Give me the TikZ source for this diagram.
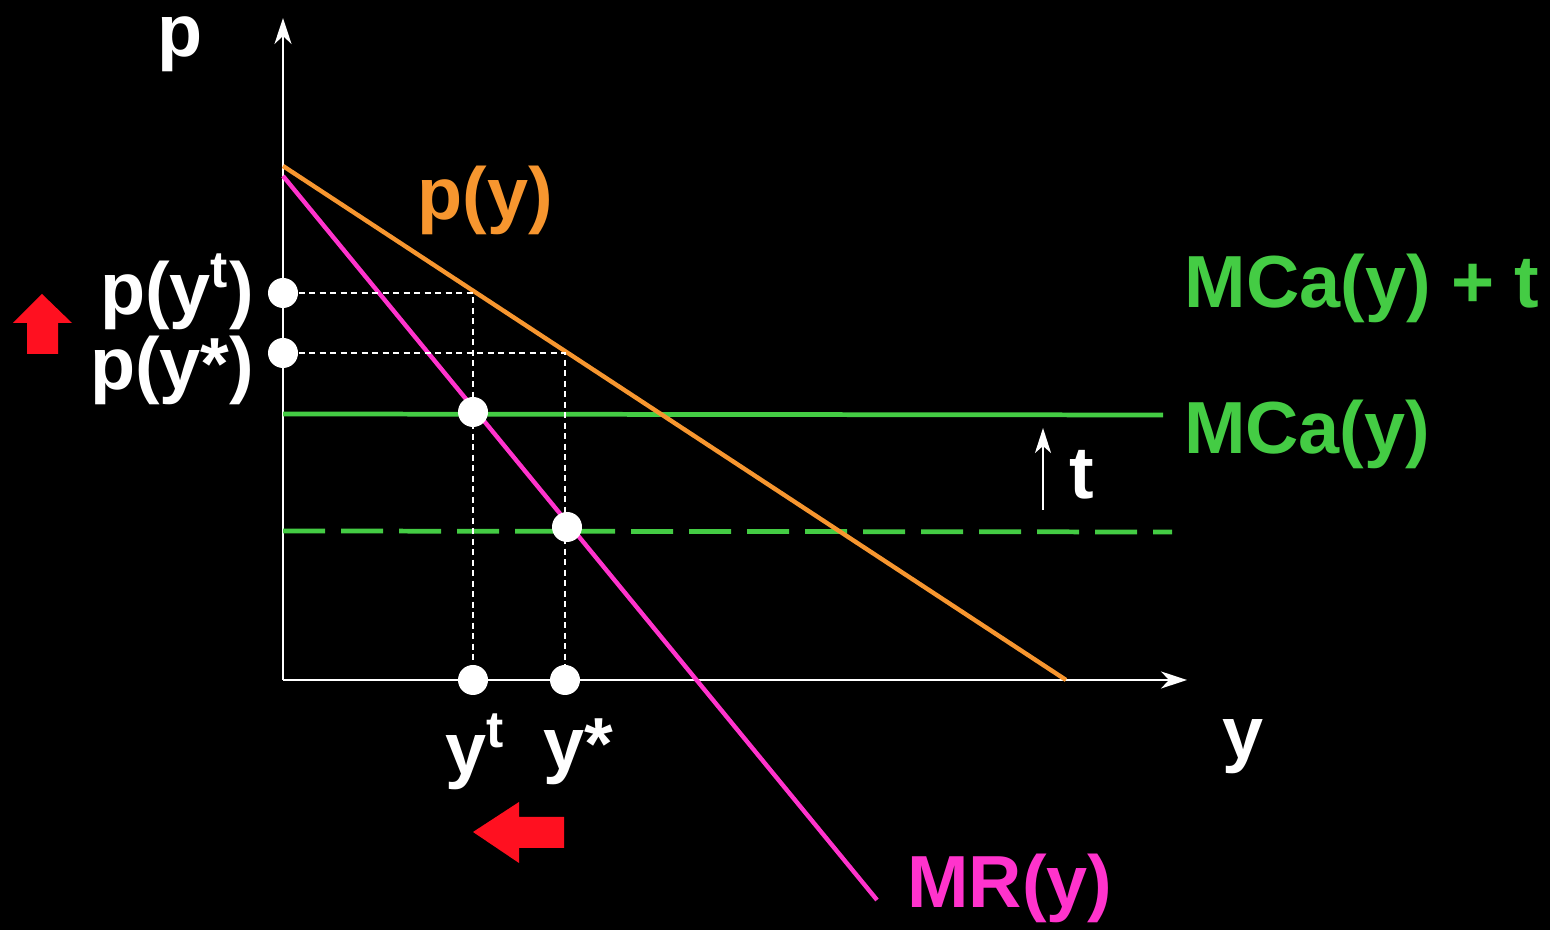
\documentclass[tikz,border=0pt]{standalone}
\usepackage{fontspec}
\setmainfont{Liberation Sans}
\usetikzlibrary{arrows.meta}
\definecolor{demandorange}{HTML}{F7962F}
\definecolor{mrmagenta}{HTML}{FF33CC}
\definecolor{costgreen}{HTML}{44CC44}
\definecolor{shiftred}{HTML}{FF1020}

\begin{document}
\begin{tikzpicture}[
    lbl/.style={font=\fontsize{21}{24}\selectfont\bfseries, inner sep=0pt, text=#1},
    lbl/.default=white,
    axis/.style={white, line width=0.65pt, -{Stealth[length=0.26cm, width=0.17cm, inset=0.08cm]}},
    guide/.style={white, line width=0.55pt, dash pattern=on 0.06cm off 0.045cm},
    curve/.style={line width=1.25pt, color=#1},
    dot/.style={circle, fill=white, inner sep=0pt, minimum size=0.3cm},
]
% background fixes the page size
\fill[black] (0,0) rectangle (15.5,9.3);

% === Axes ===
\coordinate (O) at (2.83,2.50);
\coordinate (ptop) at (2.83,9.12);
\coordinate (yend) at (11.87,2.50);
\draw[axis] (O) -- (ptop);
\draw[axis] (O) -- (yend);
\node[lbl] (plabel) at (1.80,8.86) {p};
\node[lbl] (ylabel) at (12.43,1.83) {y};

% === Cost lines: MCa(y) (dashed) and MCa(y) + t ===
\coordinate (mcs) at (2.83,3.99);
\coordinate (mce) at (11.72,3.98);
\coordinate (mcts) at (2.83,5.16);
\coordinate (mcte) at (11.63,5.15);
\draw[curve=costgreen, line width=1.35pt, dash pattern=on 0.42cm off 0.16cm] (mcs) -- (mce);
\draw[curve=costgreen, line width=1.35pt] (mcts) -- (mcte);
\node[lbl=costgreen] (mctlabel) at (13.62,6.42) {MCa(y) + t};
\node[lbl=costgreen] (mclabel) at (13.07,4.96) {MCa(y)};

% === Demand p(y) and MR(y) ===
\coordinate (ds) at (2.83,7.64);
\coordinate (de) at (10.66,2.50);
\coordinate (mrs) at (2.83,7.54);
\coordinate (mre) at (8.77,0.30);
\draw[curve=demandorange] (ds) -- (de);
\draw[curve=mrmagenta] (mrs) -- (mre);
\node[lbl=demandorange] (plabel2) at (4.85,7.30) {p(y)};
\node[lbl=mrmagenta] (mrlabel) at (10.10,0.42) {MR(y)};

% === Guides to the axes ===
\node[dot] (eqt) at (4.73,5.18) {};
\node[dot] (eqs) at (5.67,4.03) {};
\node[dot] (pt) at (2.83,6.37) {};
\node[dot] (ps) at (2.83,5.77) {};
\node[dot] (yt) at (4.73,2.50) {};
\node[dot] (ys) at (5.65,2.50) {};
\coordinate (ct) at (4.73,6.37);
\coordinate (cs) at (5.65,5.77);
\draw[guide] (pt) -- (ct) -- (yt);
\draw[guide] (ps) -- (cs) -- (ys);
\node[lbl, anchor=east] (ptlabel) at (2.55,6.38) {p(y\textsuperscript{t})};
\node[lbl, anchor=east] (pslabel) at (2.55,5.60) {p(y*)};
\node[lbl] (ytlabel) at (4.75,1.78) {y\textsuperscript{t}};
\node[lbl] (yslabel) at (5.78,1.78) {y*};

% === Tax shift t ===
\coordinate (ta) at (10.43,4.20);
\coordinate (tb) at (10.43,5.02);
\draw[white, line width=0.6pt, -{Stealth[length=0.25cm, width=0.16cm, inset=0.07cm]}] (ta) -- (tb);
\node[lbl] (tlabel) at (10.82,4.55) {t};

% === Red shift arrows ===
\fill[shiftred] (0.42,6.36) -- (0.72,6.07) -- (0.58,6.07) -- (0.58,5.76)
    -- (0.27,5.76) -- (0.27,6.07) -- (0.13,6.07) -- cycle;
\fill[shiftred] (4.73,0.98) -- (5.19,1.28) -- (5.19,1.13) -- (5.64,1.13)
    -- (5.64,0.82) -- (5.19,0.82) -- (5.19,0.67) -- cycle;

\end{tikzpicture}
\end{document}
